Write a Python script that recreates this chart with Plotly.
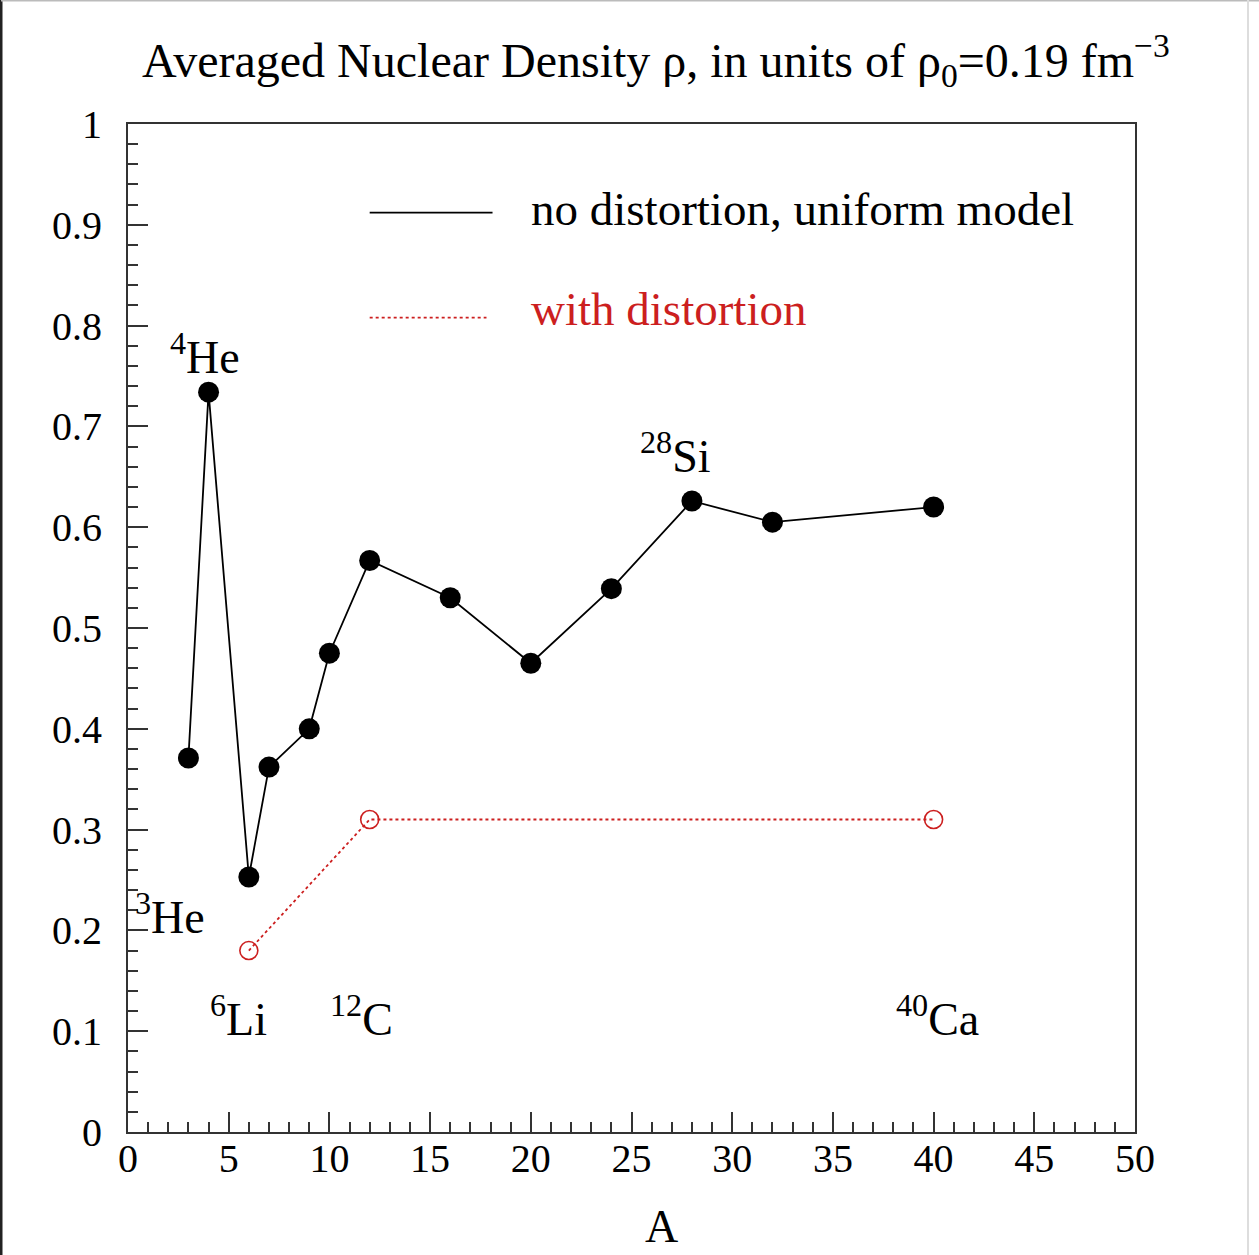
import plotly.graph_objects as go

# Data
A_uniform = [3, 4, 6, 7, 9, 10, 12, 16, 20, 24, 28, 32, 40]
rho_uniform = [0.371, 0.734, 0.253, 0.362, 0.400, 0.475, 0.567, 0.530, 0.465, 0.539, 0.626, 0.605, 0.620]

A_distort = [6, 12, 40]
rho_distort = [0.180, 0.310, 0.310]

iso_labels = ["<sup>4</sup>He", "<sup>3</sup>He", "<sup>6</sup>Li", "<sup>12</sup>C", "<sup>28</sup>Si", "<sup>40</sup>Ca"]
iso_x = [3.8, 2.1, 5.5, 11.6, 27.2, 40.2]
iso_y = [0.772, 0.216, 0.115, 0.115, 0.674, 0.115]

legend_names = ["no distortion, uniform model", "with distortion"]

FONT = "Liberation Serif"
RED = "#cc1f1f"
AXC = "#333333"

fig = go.Figure()
fig.add_trace(go.Scatter(
    x=A_uniform, y=rho_uniform, mode="lines+markers",
    line=dict(color="black", width=1.8),
    marker=dict(symbol="circle", size=21, color="black"),
    name=legend_names[0], showlegend=False, cliponaxis=False))
fig.add_trace(go.Scatter(
    x=A_distort, y=rho_distort, mode="lines+markers",
    line=dict(color=RED, width=1.8, dash="dot"),
    marker=dict(symbol="circle-open", size=18, color=RED, line=dict(width=1.6, color=RED)),
    name=legend_names[1], showlegend=False, cliponaxis=False))

# isotope labels
for t, x, y in zip(iso_labels, iso_x, iso_y):
    fig.add_annotation(x=x, y=y, text=t, showarrow=False,
                       font=dict(family=FONT, size=46, color="black"),
                       xanchor="center", yanchor="middle")

# manual legend
fig.add_shape(type="line", x0=12.0, x1=18.1, y0=0.912, y1=0.912,
              line=dict(color="black", width=1.8))
fig.add_shape(type="line", x0=12.0, x1=17.8, y0=0.808, y1=0.808,
              line=dict(color=RED, width=1.8, dash="dot"))
fig.add_annotation(x=19.9, y=0.916, text=legend_names[0], showarrow=False,
                   xanchor="left", yanchor="middle",
                   font=dict(family=FONT, size=47, color="black"))
fig.add_annotation(x=19.9, y=0.816, text=legend_names[1], showarrow=False,
                   xanchor="left", yanchor="middle",
                   font=dict(family=FONT, size=47, color=RED))

# x-axis title
fig.add_annotation(xref="paper", yref="paper", x=(661 - 128) / 1007, y=-94 / 1008,
                   text="A", showarrow=False, xanchor="center", yanchor="middle",
                   font=dict(family=FONT, size=46, color="black"))

# figure frame (left dark edge, light grey top/right)
fig.add_shape(type="line", xref="paper", yref="paper",
              x0=-127 / 1007, x1=-127 / 1007, y0=-124 / 1008, y1=1 + 124 / 1008,
              line=dict(color="#222222", width=3))
fig.add_shape(type="line", xref="paper", yref="paper",
              x0=-127 / 1007, x1=1 + 124 / 1007, y0=1 + 123.5 / 1008, y1=1 + 123.5 / 1008,
              line=dict(color="#bbbbbb", width=2))
fig.add_shape(type="line", xref="paper", yref="paper",
              x0=1 + 113 / 1007, x1=1 + 113 / 1007, y0=-124 / 1008, y1=1 + 124 / 1008,
              line=dict(color="#dddddd", width=2))

fig.update_layout(
    width=1259, height=1255,
    margin=dict(l=128, r=124, t=124, b=123),
    paper_bgcolor="white", plot_bgcolor="white",
    font=dict(family=FONT, color="black"),
    title=dict(text="Averaged Nuclear Density ρ, in units of ρ<sub>0</sub>=0.19 fm<sup>−3</sup>",
               x=0.521, xref="container", xanchor="center",
               y=0.952, yref="container", yanchor="middle",
               font=dict(family=FONT, size=48, color="black")),
    showlegend=False,
)
fig.update_xaxes(
    range=[0, 50], showgrid=False, zeroline=False,
    showline=True, linecolor=AXC, linewidth=2, mirror=True,
    ticks="inside", ticklen=20, tickwidth=2, tickcolor=AXC,
    dtick=5, tick0=0,
    minor=dict(ticks="inside", ticklen=10, tickwidth=2, tickcolor=AXC, dtick=1),
    tickfont=dict(family=FONT, size=40), ticklabelstandoff=-10,
)
fig.update_yaxes(
    range=[0, 1], showgrid=False, zeroline=False,
    showline=True, linecolor=AXC, linewidth=2, mirror=True,
    ticks="inside", ticklen=20, tickwidth=2, tickcolor=AXC,
    dtick=0.1, tick0=0,
    minor=dict(ticks="inside", ticklen=10, tickwidth=2, tickcolor=AXC, dtick=0.02),
    tickfont=dict(family=FONT, size=40), ticklabelstandoff=16,
)

fig.write_html("out.html")
